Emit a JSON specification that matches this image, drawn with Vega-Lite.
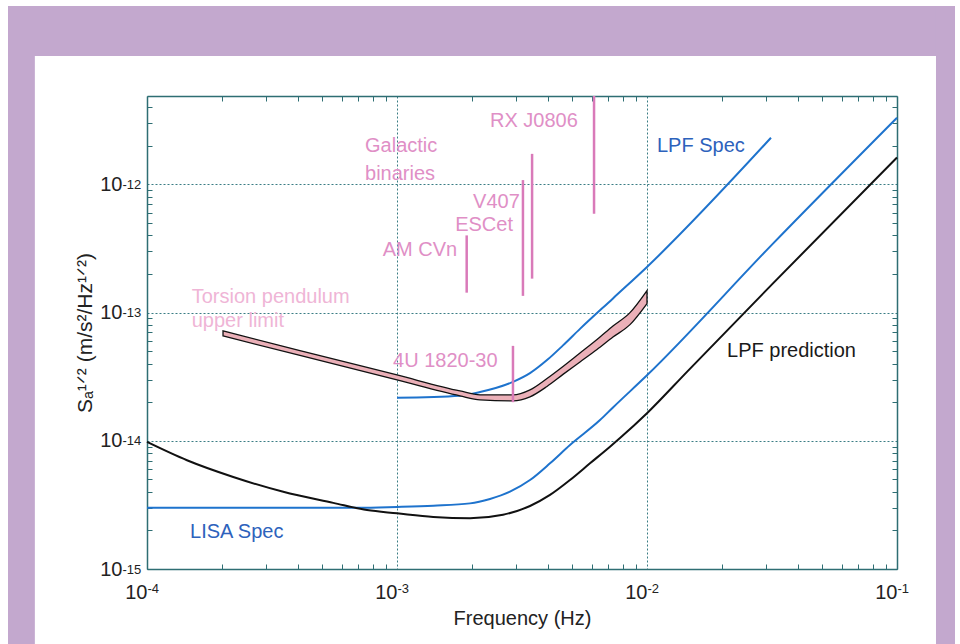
{
  "$schema": "https://vega.github.io/schema/vega-lite/v6.json",
  "width": 750,
  "height": 473,
  "autosize": {"type": "none"},
  "padding": {"left": 147, "top": 96, "right": 63, "bottom": 75},
  "background": "white",
  "config": {"view": {"stroke": null}, "font": "Liberation Sans"},
  "datasets": {
    "lpf_prediction": [
      {"f": 0.0001, "s": 9.8e-15},
      {"f": 0.0001445, "s": 7.05e-15},
      {"f": 0.0002213, "s": 5.22e-15},
      {"f": 0.0003508, "s": 4.0e-15},
      {"f": 0.0005559, "s": 3.28e-15},
      {"f": 0.0007586, "s": 2.88e-15},
      {"f": 0.001, "s": 2.72e-15},
      {"f": 0.001396, "s": 2.55e-15},
      {"f": 0.001959, "s": 2.49e-15},
      {"f": 0.002655, "s": 2.65e-15},
      {"f": 0.003404, "s": 3.1e-15},
      {"f": 0.004093, "s": 3.78e-15},
      {"f": 0.00492, "s": 4.94e-15},
      {"f": 0.005916, "s": 6.67e-15},
      {"f": 0.007112, "s": 8.99e-15},
      {"f": 0.007798, "s": 1.05e-14},
      {"f": 0.01, "s": 1.64e-14},
      {"f": 0.01445, "s": 3.45e-14},
      {"f": 0.03162, "s": 1.66e-13},
      {"f": 0.1, "s": 1.62e-12}
    ],
    "lisa_spec": [
      {"f": 0.0001, "s": 3.0e-15},
      {"f": 0.0007, "s": 3.0e-15},
      {"f": 0.001, "s": 3.05e-15},
      {"f": 0.0014, "s": 3.12e-15},
      {"f": 0.001959, "s": 3.25e-15},
      {"f": 0.002355, "s": 3.52e-15},
      {"f": 0.002831, "s": 4.01e-15},
      {"f": 0.003404, "s": 4.94e-15},
      {"f": 0.004093, "s": 6.67e-15},
      {"f": 0.00492, "s": 9.27e-15},
      {"f": 0.006486, "s": 1.45e-14},
      {"f": 0.00731, "s": 1.82e-14},
      {"f": 0.01, "s": 3.24e-14},
      {"f": 0.03162, "s": 3.39e-13},
      {"f": 0.1, "s": 3.31e-12}
    ],
    "lpf_spec": [
      {"f": 0.001, "s": 2.17e-14},
      {"f": 0.001786, "s": 2.25e-14},
      {"f": 0.002148, "s": 2.4e-14},
      {"f": 0.002911, "s": 2.88e-14},
      {"f": 0.003404, "s": 3.37e-14},
      {"f": 0.003981, "s": 4.26e-14},
      {"f": 0.004613, "s": 5.55e-14},
      {"f": 0.005395, "s": 7.46e-14},
      {"f": 0.00731, "s": 1.29e-13},
      {"f": 0.01, "s": 2.27e-13},
      {"f": 0.03133, "s": 2.31e-12}
    ],
    "torsion": [
      {"f": 0.0002014, "lo": 6.57e-14, "hi": 7.19e-14},
      {"f": 0.000409, "lo": 4.63e-14, "hi": 5.06e-14},
      {"f": 0.001, "lo": 2.98e-14, "hi": 3.26e-14},
      {"f": 0.001786, "lo": 2.24e-14, "hi": 2.45e-14},
      {"f": 0.002148, "lo": 2.087e-14, "hi": 2.283e-14},
      {"f": 0.002911, "lo": 2.05e-14, "hi": 2.28e-14},
      {"f": 0.003404, "lo": 2.203e-14, "hi": 2.495e-14},
      {"f": 0.003981, "lo": 2.655e-14, "hi": 3.062e-14},
      {"f": 0.004613, "lo": 3.296e-14, "hi": 3.8e-14},
      {"f": 0.005395, "lo": 4.12e-14, "hi": 4.84e-14},
      {"f": 0.00631, "lo": 5.15e-14, "hi": 6.17e-14},
      {"f": 0.00731, "lo": 6.44e-14, "hi": 7.85e-14},
      {"f": 0.00855, "lo": 8.05e-14, "hi": 1.0e-13},
      {"f": 0.01, "lo": 1.175e-13, "hi": 1.486e-13}
    ],
    "sources": [
      {"source": "RX J0806", "f": 0.00614, "top": 4.89e-12, "bottom": 5.9e-13},
      {"source": "V407", "f": 0.00347, "top": 1.73e-12, "bottom": 1.84e-13},
      {"source": "ES Cet", "f": 0.00319, "top": 1.08e-12, "bottom": 1.35e-13},
      {"source": "AM CVn", "f": 0.0019, "top": 4.0e-13, "bottom": 1.43e-13},
      {"source": "4U 1820-30", "f": 0.00291, "top": 5.5e-14, "bottom": 2.0e-14}
    ],
    "pink_left": [
      {"label": "Galactic", "f": 0.000745, "s": 1.995e-12},
      {"label": "binaries", "f": 0.000745, "s": 1.205e-12},
      {"label": "RX J0806", "f": 0.002355, "s": 3.13e-12},
      {"label": "4U 1820-30", "f": 0.000964, "s": 4.16e-14}
    ],
    "pink_faded": [
      {"label": "Torsion pendulum", "f": 0.000151, "s": 1.315e-13},
      {"label": "upper limit", "f": 0.000151, "s": 8.55e-14}
    ],
    "pink_right": [
      {"label": "V407", "f": 0.0031, "s": 7.28e-13},
      {"label": "ESCet", "f": 0.00291, "s": 4.81e-13},
      {"label": "AM CVn", "f": 0.00174, "s": 3.07e-13}
    ],
    "blue_labels": [
      {"label": "LPF Spec", "f": 0.01096, "s": 1.995e-12},
      {"label": "LISA Spec", "f": 0.0001486, "s": 1.945e-15}
    ],
    "black_labels": [
      {"label": "LPF prediction", "f": 0.0209, "s": 4.98e-14}
    ]
  },
  "resolve": {"axis": {"x": "independent", "y": "independent"}},
  "layer": [
    {
      "data": {"values": [{}]},
      "mark": {"type": "rect", "color": "#c3a8ce", "clip": false},
      "encoding": {
        "x": {"datum": 0.0000278, "type": "quantitative", "scale": {"type": "log", "domain": [0.0001, 0.1], "nice": false}, "axis": null},
        "x2": {"datum": 0.1706},
        "y": {"datum": 2.46e-11, "type": "quantitative", "scale": {"type": "log", "domain": [1e-15, 4.89e-12], "nice": false}, "axis": null},
        "y2": {"datum": 1.003e-11}
      }
    },
    {
      "data": {"values": [{}]},
      "mark": {"type": "rect", "color": "#c3a8ce", "clip": false},
      "encoding": {
        "x": {"datum": 0.0000278, "type": "quantitative", "scale": {"type": "log", "domain": [0.0001, 0.1], "nice": false}, "axis": null},
        "x2": {"datum": 0.0000356},
        "y": {"datum": 2.46e-11, "type": "quantitative", "scale": {"type": "log", "domain": [1e-15, 4.89e-12], "nice": false}, "axis": null},
        "y2": {"datum": 1e-16}
      }
    },
    {
      "data": {"values": [{}]},
      "mark": {"type": "rect", "color": "#c3a8ce", "clip": false},
      "encoding": {
        "x": {"datum": 0.1432, "type": "quantitative", "scale": {"type": "log", "domain": [0.0001, 0.1], "nice": false}, "axis": null},
        "x2": {"datum": 0.1706},
        "y": {"datum": 2.46e-11, "type": "quantitative", "scale": {"type": "log", "domain": [1e-15, 4.89e-12], "nice": false}, "axis": null},
        "y2": {"datum": 1e-16}
      }
    },
    {
      "data": {"name": "lisa_spec"},
      "mark": {"type": "line", "color": "#1e73cd", "strokeWidth": 2, "interpolate": "monotone"},
      "encoding": {
        "x": {"field": "f", "type": "quantitative", "scale": {"type": "log", "domain": [0.0001, 0.1], "nice": false},
          "axis": {"orient": "bottom", "values": [0.0001, 0.001, 0.01, 0.1], "labelExpr": "'-' + round(-log(datum.value)/LN10)", "labelFontSize": 13, "labelColor": "#222", "labelAlign": "left", "labelBaseline": "top", "labelDx": 6, "labelDy": -3, "labelPadding": 13, "labelFlush": false, "labelOverlap": false, "ticks": false, "domain": false, "grid": false, "title": null}},
        "y": {"field": "s", "type": "quantitative", "scale": {"type": "log", "domain": [1e-15, 4.89e-12], "nice": false},
          "axis": {"orient": "left", "values": [1e-15, 1e-14, 1e-13, 1e-12], "labelExpr": "'-' + round(-log(datum.value)/LN10)", "labelFontSize": 13, "labelColor": "#222", "labelAlign": "left", "labelBaseline": "middle", "labelDy": -7, "labelPadding": 25, "labelFlush": false, "labelOverlap": false, "ticks": false, "domain": false, "grid": false, "title": null}}
      }
    },
    {
      "data": {"name": "lpf_spec"},
      "mark": {"type": "line", "color": "#1e73cd", "strokeWidth": 2, "interpolate": "monotone"},
      "encoding": {
        "x": {"field": "f", "type": "quantitative", "scale": {"type": "log", "domain": [0.0001, 0.1], "nice": false},
          "axis": {"orient": "bottom", "offset": -5, "values": [0.0002, 0.0003, 0.0004, 0.0005, 0.0006, 0.0007, 0.0008, 0.0009, 0.002, 0.003, 0.004, 0.005, 0.006, 0.007, 0.008, 0.009, 0.02, 0.03, 0.04, 0.05, 0.06, 0.07, 0.08, 0.09], "labels": false, "ticks": true, "tickSize": 5, "tickColor": "#2e6e73", "tickWidth": 1, "domain": false, "grid": false, "title": null}},
        "y": {"field": "s", "type": "quantitative", "scale": {"type": "log", "domain": [1e-15, 4.89e-12], "nice": false},
          "axis": {"orient": "left", "offset": -5, "values": [2e-15, 3e-15, 4e-15, 5e-15, 6e-15, 7e-15, 8e-15, 9e-15, 2e-14, 3e-14, 4e-14, 5e-14, 6e-14, 7e-14, 8e-14, 9e-14, 2e-13, 3e-13, 4e-13, 5e-13, 6e-13, 7e-13, 8e-13, 9e-13, 2e-12, 3e-12, 4e-12], "labels": false, "ticks": true, "tickSize": 5, "tickColor": "#2e6e73", "tickWidth": 1, "domain": false, "grid": false, "title": null}}
      }
    },
    {
      "data": {"name": "lpf_prediction"},
      "mark": {"type": "line", "color": "#111111", "strokeWidth": 2, "interpolate": "monotone"},
      "encoding": {
        "x": {"field": "f", "type": "quantitative", "scale": {"type": "log", "domain": [0.0001, 0.1], "nice": false},
          "axis": {"orient": "bottom", "values": [0.0001, 0.001, 0.01, 0.1], "labelExpr": "'10'", "labelFontSize": 20, "labelColor": "#222", "labelAlign": "right", "labelBaseline": "top", "labelDx": 6, "labelPadding": 13, "labelFlush": false, "labelOverlap": false, "ticks": false, "domain": true, "domainColor": "#2e6e73", "domainWidth": 1.5, "grid": true, "gridColor": "#3a7d84", "gridDash": [2, 2], "gridWidth": 1, "title": "Frequency (Hz)", "titleFontSize": 20, "titleFontWeight": "normal", "titleColor": "#222", "titlePadding": 6}},
        "y": {"field": "s", "type": "quantitative", "scale": {"type": "log", "domain": [1e-15, 4.89e-12], "nice": false},
          "axis": {"orient": "left", "values": [1e-15, 1e-14, 1e-13, 1e-12], "labelExpr": "'10'", "labelFontSize": 20, "labelColor": "#222", "labelAlign": "right", "labelBaseline": "middle", "labelDy": 2, "labelPadding": 25, "labelFlush": false, "labelOverlap": false, "ticks": false, "domain": true, "domainColor": "#2e6e73", "domainWidth": 1.5, "grid": true, "gridColor": "#3a7d84", "gridDash": [2, 2], "gridWidth": 1, "title": "Sₐ¹ᐟ² (m/s²/Hz¹ᐟ²)", "titleFontSize": 21, "titleFontWeight": "normal", "titleColor": "#222", "titlePadding": 4}}
      }
    },
    {
      "data": {"name": "torsion"},
      "mark": {"type": "area", "fill": "#ebb0b8", "stroke": "#111111", "strokeWidth": 1.3, "interpolate": "monotone"},
      "encoding": {
        "x": {"field": "f", "type": "quantitative", "scale": {"type": "log", "domain": [0.0001, 0.1], "nice": false},
          "axis": {"orient": "top", "offset": -5, "values": [0.0002, 0.0003, 0.0004, 0.0005, 0.0006, 0.0007, 0.0008, 0.0009, 0.002, 0.003, 0.004, 0.005, 0.006, 0.007, 0.008, 0.009, 0.02, 0.03, 0.04, 0.05, 0.06, 0.07, 0.08, 0.09], "labels": false, "ticks": true, "tickSize": 5, "tickColor": "#2e6e73", "tickWidth": 1, "domain": false, "grid": false, "title": null}},
        "y": {"field": "lo", "type": "quantitative", "scale": {"type": "log", "domain": [1e-15, 4.89e-12], "nice": false},
          "axis": {"orient": "right", "offset": -5, "values": [2e-15, 3e-15, 4e-15, 5e-15, 6e-15, 7e-15, 8e-15, 9e-15, 2e-14, 3e-14, 4e-14, 5e-14, 6e-14, 7e-14, 8e-14, 9e-14, 2e-13, 3e-13, 4e-13, 5e-13, 6e-13, 7e-13, 8e-13, 9e-13, 2e-12, 3e-12, 4e-12], "labels": false, "ticks": true, "tickSize": 5, "tickColor": "#2e6e73", "tickWidth": 1, "domain": false, "grid": false, "title": null}},
        "y2": {"field": "hi"}
      }
    },
    {
      "data": {"name": "sources"},
      "mark": {"type": "rule", "color": "#d97ab9", "strokeWidth": 2.5},
      "encoding": {
        "x": {"field": "f", "type": "quantitative", "scale": {"type": "log", "domain": [0.0001, 0.1], "nice": false},
          "axis": {"orient": "top", "labels": false, "ticks": false, "domain": true, "domainColor": "#2e6e73", "domainWidth": 1.5, "grid": false, "title": null}},
        "y": {"field": "top", "type": "quantitative", "scale": {"type": "log", "domain": [1e-15, 4.89e-12], "nice": false},
          "axis": {"orient": "right", "labels": false, "ticks": false, "domain": true, "domainColor": "#2e6e73", "domainWidth": 1.5, "grid": false, "title": null}},
        "y2": {"field": "bottom"}
      }
    },
    {
      "data": {"name": "pink_left"},
      "mark": {"type": "text", "color": "#e08fc6", "fontSize": 20, "align": "left", "baseline": "middle"},
      "encoding": {
        "x": {"field": "f", "type": "quantitative", "scale": {"type": "log", "domain": [0.0001, 0.1], "nice": false}, "axis": null},
        "y": {"field": "s", "type": "quantitative", "scale": {"type": "log", "domain": [1e-15, 4.89e-12], "nice": false}, "axis": null},
        "text": {"field": "label"}
      }
    },
    {
      "data": {"name": "pink_faded"},
      "mark": {"type": "text", "color": "#efb5d6", "fontSize": 20, "align": "left", "baseline": "middle"},
      "encoding": {
        "x": {"field": "f", "type": "quantitative", "scale": {"type": "log", "domain": [0.0001, 0.1], "nice": false}, "axis": null},
        "y": {"field": "s", "type": "quantitative", "scale": {"type": "log", "domain": [1e-15, 4.89e-12], "nice": false}, "axis": null},
        "text": {"field": "label"}
      }
    },
    {
      "data": {"name": "pink_right"},
      "mark": {"type": "text", "color": "#e08fc6", "fontSize": 20, "align": "right", "baseline": "middle"},
      "encoding": {
        "x": {"field": "f", "type": "quantitative", "scale": {"type": "log", "domain": [0.0001, 0.1], "nice": false}, "axis": null},
        "y": {"field": "s", "type": "quantitative", "scale": {"type": "log", "domain": [1e-15, 4.89e-12], "nice": false}, "axis": null},
        "text": {"field": "label"}
      }
    },
    {
      "data": {"name": "blue_labels"},
      "mark": {"type": "text", "color": "#2d62bc", "fontSize": 20, "align": "left", "baseline": "middle"},
      "encoding": {
        "x": {"field": "f", "type": "quantitative", "scale": {"type": "log", "domain": [0.0001, 0.1], "nice": false}, "axis": null},
        "y": {"field": "s", "type": "quantitative", "scale": {"type": "log", "domain": [1e-15, 4.89e-12], "nice": false}, "axis": null},
        "text": {"field": "label"}
      }
    },
    {
      "data": {"name": "black_labels"},
      "mark": {"type": "text", "color": "#1a1a1a", "fontSize": 20, "align": "left", "baseline": "middle"},
      "encoding": {
        "x": {"field": "f", "type": "quantitative", "scale": {"type": "log", "domain": [0.0001, 0.1], "nice": false}, "axis": null},
        "y": {"field": "s", "type": "quantitative", "scale": {"type": "log", "domain": [1e-15, 4.89e-12], "nice": false}, "axis": null},
        "text": {"field": "label"}
      }
    }
  ]
}
